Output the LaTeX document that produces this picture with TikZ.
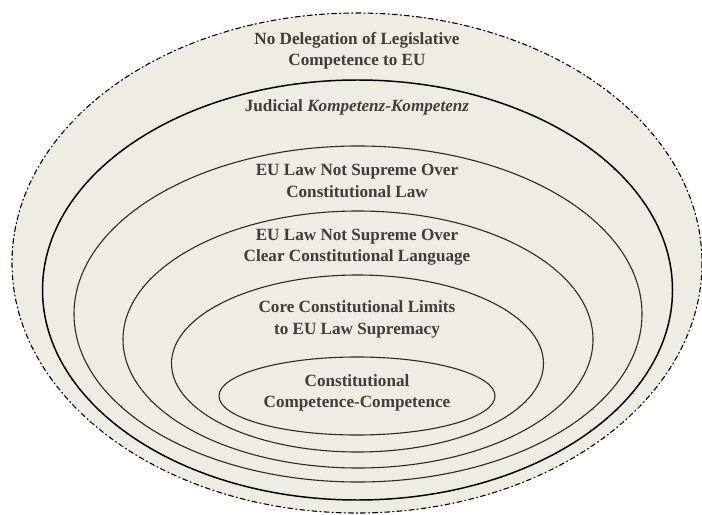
\documentclass[tikz,border=0pt]{standalone}
\usepackage{fontspec}
\setmainfont{Liberation Serif}
\usepackage{xcolor}
\usepackage{tikz}
\usetikzlibrary{positioning}
\definecolor{paper}{RGB}{239,236,228}
\definecolor{ink}{RGB}{64,62,60}
\definecolor{rim}{RGB}{45,42,40}
\tikzset{
  ring/.style={draw=rim, line width=1.1pt, fill=paper},
  outerring/.style={draw=black, line width=1.1pt, fill=paper,
    dash pattern=on 5pt off 3pt on 1.2pt off 3pt},
  mainring/.style={draw=black, line width=1.5pt, fill=paper},
  lbl/.style={align=center, text=ink, inner sep=1pt,
    font=\bfseries\fontsize{17.2}{21.5}\selectfont},
  every picture/.style={line cap=round, line join=round}
}

\begin{document}
\begin{tikzpicture}[x=1bp, y=-1bp]
  \useasboundingbox (0,0) rectangle (702,515);

  % nested rings, outermost first
  \draw[outerring] (357,263) ellipse [x radius=345, y radius=250];
  \draw[mainring] (357.5,290) ellipse [x radius=315, y radius=210];
  \draw[ring] (358,314) ellipse [x radius=284, y radius=168];
  \draw[ring] (358,339.5) ellipse [x radius=235, y radius=128.5];
  \draw[ring] (357.5,363.5) ellipse [x radius=186, y radius=88.5];
  \draw[ring] (357,396) ellipse [x radius=138, y radius=39];

  % labels
  \node[lbl] (deleg) at (357,51) {No Delegation of Legislative\\Competence to EU};
  \node[lbl] (judic) at (357,107) {Judicial \textit{Kompetenz-Kompetenz}};
  \node[lbl] (conlaw) at (357,181) {EU Law Not Supreme Over\\Constitutional Law};
  \node[lbl] (clear) at (357,247) {EU Law Not Supreme Over\\Clear Constitutional Language};
  \node[lbl] (core) at (357,319.5) {Core Constitutional Limits\\to EU Law Supremacy};
  \node[lbl] (compcomp) at (357,393) {Constitutional\\Competence-Competence};
\end{tikzpicture}
\end{document}
